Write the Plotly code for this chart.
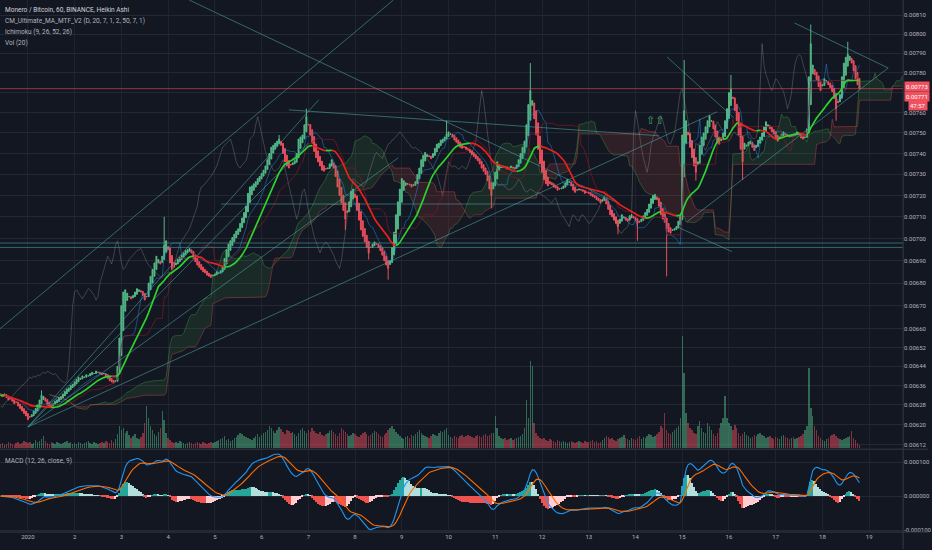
import numpy as np
import pandas as pd
import plotly.graph_objects as go

# ---------------- DATA ----------------
# Heikin Ashi close per hour, in millionths of BTC (6320 -> 0.006320)
c_dec31 = [6320, 6315, 6325, 6310, 6300, 6305, 6295, 6285, 6290, 6275, 6265, 6255, 6245, 6235]
c_jan01 = [6220, 6230, 6240, 6255, 6265, 6280, 6300, 6320, 6315, 6295, 6280, 6275, 6270, 6285, 6295, 6300, 6310, 6315, 6325, 6335, 6345, 6350, 6360, 6365]
c_jan02 = [6375, 6385, 6395, 6390, 6400, 6395, 6405, 6400, 6410, 6415, 6410, 6420, 6415, 6410, 6405, 6410, 6400, 6390, 6380, 6375, 6370, 6380, 6440, 6560]
c_jan03 = [6700, 6760, 6770, 6755, 6740, 6730, 6745, 6760, 6775, 6770, 6760, 6745, 6725, 6740, 6800, 6830, 6860, 6890, 6920, 6905, 6885, 6920, 6970, 6990]
c_jan04 = [6950, 6890, 6860, 6870, 6890, 6905, 6915, 6925, 6935, 6945, 6950, 6955, 6935, 6910, 6895, 6880, 6870, 6860, 6850, 6845, 6835, 6830, 6825, 6835]
c_jan05 = [6840, 6850, 6845, 6855, 6870, 6910, 6950, 6975, 6990, 7005, 7020, 7035, 7045, 7070, 7095, 7120, 7150, 7210, 7240, 7245, 7255, 7265, 7280, 7290]
c_jan06 = [7305, 7320, 7340, 7370, 7400, 7430, 7440, 7450, 7460, 7470, 7440, 7400, 7360, 7340, 7330, 7345, 7355, 7365, 7400, 7470, 7480, 7490, 7540, 7580]
c_jan07 = [7540, 7490, 7450, 7410, 7380, 7360, 7340, 7320, 7315, 7325, 7330, 7350, 7370, 7330, 7290, 7240, 7200, 7165, 7130, 7090, 7120, 7170, 7220, 7230]
c_jan08 = [7190, 7130, 7085, 7040, 7010, 6985, 6960, 6935, 6960, 6975, 6985, 6975, 6960, 6945, 6925, 6900, 6880, 6865, 6900, 6960, 7030, 7110, 7170, 7230]
c_jan09 = [7280, 7270, 7260, 7255, 7250, 7240, 7250, 7265, 7300, 7330, 7370, 7390, 7405, 7395, 7385, 7375, 7400, 7425, 7445, 7450, 7465, 7470, 7480, 7495]
c_jan10 = [7505, 7495, 7480, 7465, 7455, 7445, 7430, 7425, 7430, 7420, 7415, 7405, 7395, 7385, 7375, 7365, 7350, 7330, 7315, 7300, 7270, 7230, 7200, 7260]
c_jan11 = [7310, 7360, 7345, 7335, 7340, 7335, 7325, 7330, 7340, 7330, 7325, 7345, 7370, 7400, 7430, 7460, 7540, 7640, 7710, 7660, 7570, 7490, 7420, 7350]
c_jan12 = [7310, 7275, 7255, 7245, 7255, 7250, 7240, 7235, 7225, 7230, 7235, 7245, 7260, 7275, 7265, 7245, 7225, 7215, 7225, 7230, 7225, 7220, 7210, 7215]
c_jan13 = [7210, 7200, 7195, 7190, 7180, 7175, 7165, 7180, 7190, 7160, 7135, 7110, 7100, 7085, 7070, 7055, 7090, 7110, 7100, 7085, 7080, 7105, 7110, 7095]
c_jan14 = [7085, 7070, 7075, 7090, 7105, 7120, 7135, 7160, 7185, 7200, 7205, 7180, 7150, 7110, 7090, 7075, 7045, 7030, 7025, 7040, 7045, 7055, 7080, 7110]
c_jan15 = [7490, 7610, 7560, 7490, 7430, 7380, 7340, 7310, 7360, 7440, 7480, 7500, 7530, 7560, 7585, 7560, 7520, 7480, 7450, 7445, 7470, 7500, 7560, 7620]
c_jan16 = [7700, 7720, 7670, 7610, 7560, 7490, 7420, 7360, 7450, 7440, 7455, 7460, 7430, 7415, 7440, 7465, 7480, 7500, 7530, 7555, 7540, 7520, 7505, 7495]
c_jan17 = [7470, 7460, 7480, 7495, 7505, 7490, 7485, 7480, 7490, 7485, 7495, 7505, 7490, 7475, 7470, 7480, 7520, 7780, 7950, 7840, 7790, 7765, 7730, 7710]
c_jan18 = [7740, 7770, 7760, 7740, 7725, 7705, 7670, 7620, 7650, 7690, 7780, 7850, 7880, 7895, 7885, 7850, 7810, 7770, 7740, 7720]

# hourly volume (relative units)
v_dec31 = [4, 5, 3, 4, 6, 5, 4, 3, 5, 6, 4, 5, 7, 6]
v_jan01 = [5, 6, 4, 5, 8, 6, 7, 9, 12, 7, 5, 4, 6, 5, 4, 6, 5, 4, 5, 6, 7, 5, 6, 4]
v_jan02 = [5, 4, 6, 5, 4, 5, 6, 7, 5, 4, 6, 5, 4, 5, 6, 5, 7, 6, 5, 8, 6, 9, 14, 22]
v_jan03 = [18, 20, 15, 17, 13, 10, 12, 14, 10, 9, 11, 15, 25, 42, 30, 22, 18, 14, 12, 16, 20, 37, 28, 15]
v_jan04 = [10, 8, 6, 5, 6, 5, 7, 6, 5, 4, 5, 6, 5, 4, 5, 6, 5, 4, 6, 5, 4, 5, 6, 5]
v_jan05 = [6, 7, 8, 9, 10, 12, 8, 9, 7, 8, 10, 11, 13, 15, 14, 12, 11, 10, 9, 8, 10, 12, 14, 11]
v_jan06 = [13, 15, 16, 18, 22, 20, 17, 15, 18, 21, 19, 16, 14, 18, 17, 15, 16, 14, 12, 15, 18, 20, 17, 15]
v_jan07 = [18, 16, 20, 17, 15, 14, 16, 13, 12, 14, 15, 17, 18, 16, 14, 12, 15, 20, 18, 16, 14, 12, 13, 15]
v_jan08 = [14, 12, 11, 13, 15, 16, 14, 12, 13, 15, 17, 16, 14, 12, 11, 13, 15, 18, 20, 22, 19, 16, 14, 12]
v_jan09 = [10, 9, 11, 12, 10, 13, 12, 14, 16, 18, 15, 13, 12, 11, 10, 12, 14, 13, 12, 15, 17, 16, 18, 20]
v_jan10 = [13, 11, 10, 12, 11, 10, 12, 13, 11, 12, 13, 12, 11, 10, 12, 13, 12, 11, 13, 14, 12, 13, 15, 15]
v_jan11 = [32, 20, 12, 10, 9, 10, 8, 9, 10, 8, 9, 10, 11, 12, 14, 20, 48, 30, 87, 82, 25, 15, 12, 10]
v_jan12 = [9, 10, 8, 7, 9, 8, 7, 6, 8, 7, 6, 7, 6, 5, 6, 7, 6, 5, 6, 7, 6, 5, 7, 6]
v_jan13 = [6, 7, 8, 6, 7, 5, 6, 8, 10, 12, 11, 9, 10, 8, 7, 9, 10, 11, 13, 10, 9, 8, 10, 9]
v_jan14 = [8, 10, 12, 9, 11, 10, 12, 14, 13, 11, 12, 14, 16, 22, 20, 35, 18, 15, 14, 16, 18, 20, 22, 30]
v_jan15 = [112, 75, 35, 25, 20, 18, 15, 14, 22, 27, 20, 16, 15, 25, 22, 18, 14, 12, 15, 20, 25, 30, 52, 30]
v_jan16 = [25, 22, 18, 23, 20, 15, 12, 14, 16, 13, 12, 10, 11, 13, 12, 14, 15, 13, 12, 10, 11, 12, 10, 9]
v_jan17 = [11, 10, 9, 12, 13, 11, 10, 9, 10, 11, 9, 10, 11, 12, 14, 18, 22, 80, 40, 32, 22, 18, 12, 10]
v_jan18 = [8, 7, 9, 10, 12, 13, 14, 12, 10, 9, 8, 9, 10, 11, 12, 17, 10, 8, 5, 3]

# long wicks visible on the picture: bar index -> price (millionths)
wick_high = {21: 6340, 84: 7100, 143: 7490, 157: 7620, 229: 7560, 272: 7850,
             351: 7866, 375: 7790, 416: 8050, 435: 7960}
wick_low = {177: 7040, 189: 6905, 199: 6815, 252: 7140, 317: 7020, 327: 6990,
            342: 6830, 357: 7270, 381: 7274, 429: 7560}

first_bar = "2019-12-31 10:00"
day_labels = ["2020"] + [str(d) for d in range(2, 20)]
price_ticks = [0.00810, 0.00800, 0.00790, 0.00780, 0.00770, 0.00760, 0.00750, 0.00740,
               0.00730, 0.00720, 0.00710, 0.00700, 0.00690, 0.00680, 0.00670, 0.00660,
               0.00652, 0.00644, 0.00636, 0.00628, 0.00620, 0.00612]
price_labels = ["" if p == 0.00770 else "%.5f" % p for p in price_ticks]
macd_labels = ["0.000100", "0.000000", "-0.000100"]
last_labels = ["0.00773", "0.00771"]
countdown = "47:57"

# drawings (time, price)
trend_lines = [
    (("2019-12-31 09:40", 0.00660), ("2020-01-08 19:40", 0.00818)),
    (("2020-01-01 00:00", 0.00619), ("2020-01-07 05:20", 0.007664)),
    (("2020-01-01 00:00", 0.00619), ("2020-01-15 17:50", 0.007604)),
    (("2020-01-01 00:00", 0.00619), ("2020-01-07 00:10", 0.007452)),
    (("2020-01-01 00:00", 0.00619), ("2020-01-08 22:10", 0.007379)),
    (("2020-01-06 14:00", 0.007614), ("2020-01-14 12:10", 0.007486)),
    (("2020-01-04 10:50", 0.00818), ("2020-01-13 14:40", 0.007166)),
    (("2020-01-14 16:15", 0.007881), ("2020-01-16 02:30", 0.007574)),
    (("2020-01-14 22:20", 0.007050), ("2020-01-16 01:30", 0.006941)),
    (("2020-01-17 09:40", 0.008058), ("2020-01-19 09:45", 0.007825)),
    (("2020-01-19 09:45", 0.007825), ("2020-01-15 02:30", 0.007078)),
    (("2019-12-31 09:40", 0.00698), ("2020-01-19 17:25", 0.00698)),
    (("2019-12-31 09:40", 0.00696), ("2020-01-19 17:25", 0.00696)),
    (("2020-01-05 03:10", 0.00716), ("2020-01-13 04:30", 0.00716)),
]
arrow_marker = ("2020-01-14 10:00", 0.00756)

# ---------------- STYLE ----------------
BG = "#131722"
HGRID = "#242832"
VGRID = "#1f2330"
TXT = "#b2b5be"
UP = "#53b987"
DN = "#eb4d5c"
FONT = "Roboto"
XD = 907 / 932
MAIN = [1 - 449 / 550, 1]
MACDD = [1 - 533 / 550, 1 - 451 / 550]

# ---------------- COMPUTE ----------------
close = np.array(c_dec31 + c_jan01 + c_jan02 + c_jan03 + c_jan04 + c_jan05 + c_jan06 + c_jan07 +
                 c_jan08 + c_jan09 + c_jan10 + c_jan11 + c_jan12 + c_jan13 + c_jan14 + c_jan15 +
                 c_jan16 + c_jan17 + c_jan18, dtype=float) / 1e6
volume = np.array(v_dec31 + v_jan01 + v_jan02 + v_jan03 + v_jan04 + v_jan05 + v_jan06 + v_jan07 +
                  v_jan08 + v_jan09 + v_jan10 + v_jan11 + v_jan12 + v_jan13 + v_jan14 + v_jan15 +
                  v_jan16 + v_jan17 + v_jan18, dtype=float)
n = len(close)
disp = 25
t_all = pd.date_range(first_bar, periods=n + disp, freq="h")
tx = t_all[:n]

ha_open = np.empty(n)
ha_open[0] = close[0] + 0.000005
for i in range(1, n):
    ha_open[i] = (ha_open[i - 1] + close[i - 1]) / 2
high = np.maximum(ha_open, close)
low = np.minimum(ha_open, close)
for k, v in wick_high.items():
    high[k] = max(high[k], v / 1e6)
for k, v in wick_low.items():
    low[k] = min(low[k], v / 1e6)
is_up = close >= ha_open

s = pd.Series(close)
ma = s.rolling(20, min_periods=1).mean().values
rising = np.r_[True, ma[1:] >= ma[:-1]]

sh, sl = pd.Series(high), pd.Series(low)
conv = (sh.rolling(9, min_periods=1).max() + sl.rolling(9, min_periods=1).min()) / 2
base = (sh.rolling(26, min_periods=1).max() + sl.rolling(26, min_periods=1).min()) / 2
spanA = ((conv + base) / 2).values
spanB = ((sh.rolling(52, min_periods=1).max() + sl.rolling(52, min_periods=1).min()) / 2).values
tA = t_all[disp:disp + n]

ema12 = s.ewm(span=12, adjust=False).mean()
ema26 = s.ewm(span=26, adjust=False).mean()
macd = ema12 - ema26
signal = macd.ewm(span=9, adjust=False).mean()
hist = (macd - signal).values
hcol = []
for i in range(n):
    prev = hist[i - 1] if i > 0 else 0
    if hist[i] >= 0:
        hcol.append("#26a69a" if hist[i] >= prev else "#b2dfdb")
    else:
        hcol.append("#ffcdd2" if hist[i] >= prev else "#ef5350")

# MACD pane scale: highest MACD sits ~42 px above zero, label step ~34 px
unit = float(macd.max()) / 42.0
macd_ticks = [34 * unit, 0.0, -34 * unit]
macd_range = [-36 * unit, 46 * unit]

fig = go.Figure()

# volume (base axis, behind)
fig.add_trace(go.Bar(x=tx, y=volume, width=0.75 * 3600000,
                     marker=dict(color=[("rgba(83,185,135,0.5)" if u else "rgba(235,77,92,0.5)") for u in is_up],
                                 line=dict(width=0)),
                     xaxis="x", yaxis="y"))

# ichimoku cloud
diff = spanA - spanB
start = 0
segs = []
for i in range(1, n + 1):
    if i == n or (diff[i] >= 0) != (diff[start] >= 0):
        segs.append((start, min(i + 1, n)))
        start = i
for a, b in segs:
    xs = list(tA[a:b]) + list(tA[a:b][::-1])
    ys = list(spanA[a:b]) + list(spanB[a:b][::-1])
    green = diff[a] >= 0
    fig.add_trace(go.Scatter(x=xs, y=ys, fill="toself", mode="lines", line=dict(width=0),
                             fillcolor="rgba(76,175,80,0.13)" if green else "rgba(239,83,80,0.13)",
                             xaxis="x", yaxis="y3"))
fig.add_trace(go.Scatter(x=tA, y=spanA, mode="lines", line=dict(color="rgba(76,175,80,0.35)", width=1), xaxis="x", yaxis="y3"))
fig.add_trace(go.Scatter(x=tA, y=spanB, mode="lines", line=dict(color="rgba(239,83,80,0.35)", width=1), xaxis="x", yaxis="y3"))
fig.add_trace(go.Scatter(x=tx[:n - disp], y=close[disp:], mode="lines", line=dict(color="rgba(170,170,170,0.3)", width=1), xaxis="x", yaxis="y3"))
fig.add_trace(go.Scatter(x=tx, y=conv, mode="lines", line=dict(color="rgba(33,150,243,0.45)", width=1), xaxis="x", yaxis="y3"))
fig.add_trace(go.Scatter(x=tx, y=base, mode="lines", line=dict(color="rgba(128,25,34,0.7)", width=1), xaxis="x", yaxis="y3"))

# drawings
for (t0, p0), (t1, p1) in trend_lines:
    fig.add_trace(go.Scatter(x=[t0, t1], y=[p0, p1], mode="lines",
                             line=dict(color="rgba(80,170,170,0.55)", width=1), xaxis="x", yaxis="y3"))
# last price line
fig.add_trace(go.Scatter(x=[t_all[0] - pd.Timedelta(hours=1), t_all[-1] + pd.Timedelta(hours=30)],
                         y=[close[-1], close[-1]], mode="lines",
                         line=dict(color="rgba(235,77,92,0.6)", width=1), xaxis="x", yaxis="y3"))

# candles
fig.add_trace(go.Candlestick(x=tx, open=ha_open, high=high, low=low, close=close,
                             increasing=dict(line=dict(color=UP, width=1), fillcolor=UP),
                             decreasing=dict(line=dict(color=DN, width=1), fillcolor=DN),
                             whiskerwidth=0, xaxis="x", yaxis="y3"))

# MA 20 colored by slope
up_y = [ma[i] if (rising[i] or (i + 1 < n and rising[i + 1])) else None for i in range(n)]
dn_y = [ma[i] if ((not rising[i]) or (i + 1 < n and not rising[i + 1])) else None for i in range(n)]
fig.add_trace(go.Scatter(x=tx, y=dn_y, mode="lines", line=dict(color="#e8221e", width=1.7), connectgaps=False, xaxis="x", yaxis="y3"))
fig.add_trace(go.Scatter(x=tx, y=up_y, mode="lines", line=dict(color="#2ed12e", width=1.7), connectgaps=False, xaxis="x", yaxis="y3"))

# MACD
fig.add_trace(go.Bar(x=tx, y=hist, width=0.8 * 3600000, marker=dict(color=hcol, line=dict(width=0)), xaxis="x2", yaxis="y2"))
fig.add_trace(go.Scatter(x=tx, y=macd, mode="lines", line=dict(color="#2196f3", width=1.1), xaxis="x2", yaxis="y2"))
fig.add_trace(go.Scatter(x=tx, y=signal, mode="lines", line=dict(color="#ff6d00", width=1.1), xaxis="x2", yaxis="y2"))

day_ticks = pd.date_range("2020-01-01", periods=len(day_labels), freq="D")
xr = [pd.Timestamp("2019-12-31 09:41"), pd.Timestamp("2020-01-19 17:25")]
pr = [np.log10(0.006105), np.log10(0.008180)]

fig.update_layout(
    width=932, height=550, margin=dict(l=0, r=0, t=0, b=0),
    paper_bgcolor=BG, plot_bgcolor=BG, showlegend=False, hovermode=False, bargap=0,
    font=dict(family=FONT, color=TXT, size=6),
    xaxis=dict(domain=[0, XD], range=xr, anchor="y", tickvals=day_ticks, showticklabels=False,
               showgrid=True, gridcolor=VGRID, zeroline=False, showline=False,
               rangeslider=dict(visible=False), ticks=""),
    xaxis2=dict(domain=[0, XD], range=xr, anchor="y2", matches="x", tickvals=day_ticks, ticktext=day_labels,
                showgrid=True, gridcolor=VGRID, zeroline=False, showline=False, ticks="",
                tickfont=dict(size=6, color=TXT, family=FONT)),
    yaxis=dict(domain=MAIN, range=[0, volume.max() * 449 / 112], visible=False, fixedrange=True),
    yaxis3=dict(overlaying="y", type="log", range=pr, side="right", anchor="x",
                tickvals=price_ticks, ticktext=price_labels, showgrid=True, gridcolor=HGRID,
                zeroline=False, showline=False, ticks="", tickfont=dict(size=6, color=TXT, family=FONT)),
    yaxis2=dict(domain=MACDD, range=macd_range, side="right", anchor="x2",
                tickvals=macd_ticks, ticktext=macd_labels, showgrid=True, gridcolor=HGRID,
                zeroline=False, showline=False, ticks="", tickfont=dict(size=6, color=TXT, family=FONT)),
)

# panel separators and axis border
for yy in [1 - 450 / 550, 1 - 533 / 550]:
    fig.add_shape(type="line", xref="paper", yref="paper", x0=0, x1=1, y0=yy, y1=yy,
                  line=dict(color="#363a45", width=1))
fig.add_shape(type="line", xref="paper", yref="paper", x0=XD, x1=XD, y0=0, y1=1,
              line=dict(color="#363a45", width=1))

# header texts
heads = ["Monero / Bitcoin, 60, BINANCE, Heikin Ashi",
         "CM_Ultimate_MA_MTF_V2 (D, 20, 7, 1, 2, 50, 7, 1)",
         "Ichimoku (9, 26, 52, 26)",
         "Vol (20)"]
for k, txt in enumerate(heads):
    fig.add_annotation(x=3 / 932, y=1 - (10 + 11 * k) / 550, xref="paper", yref="paper",
                       text=txt, showarrow=False, xanchor="left", yanchor="middle",
                       font=dict(size=6.5, color="#d1d4dc" if k == 0 else TXT, family=FONT))
fig.add_annotation(x=3 / 932, y=1 - 462 / 550, xref="paper", yref="paper",
                   text="MACD (12, 26, close, 9)", showarrow=False, xanchor="left", yanchor="middle",
                   font=dict(size=6.5, color=TXT, family=FONT))

# small drawing icon
fig.add_annotation(x=arrow_marker[0], y=np.log10(arrow_marker[1]), xref="x", yref="y3", text="⇧⇧",
                   showarrow=False, font=dict(size=11, color="#3fa564", family="DejaVu Sans"))

# price boxes on the axis
fig.add_annotation(x=XD + 1 / 932, y=np.log10(0.00773), xref="paper", yref="y3", text=last_labels[0],
                   showarrow=False, xanchor="left", yanchor="middle", bgcolor="#f0515e", borderpad=1,
                   font=dict(size=6, color="white", family=FONT))
fig.add_annotation(x=XD + 1 / 932, y=np.log10(0.00771), xref="paper", yref="y3", text=last_labels[1],
                   showarrow=False, xanchor="left", yanchor="middle", bgcolor="#f0515e", borderpad=1,
                   yshift=-5.8, font=dict(size=6, color="white", family=FONT))
fig.add_annotation(x=922 / 932, y=np.log10(0.00771), xref="paper", yref="y3", text=countdown,
                   showarrow=False, xanchor="center", yanchor="middle", bgcolor="#f0515e", borderpad=1,
                   yshift=-15.3, font=dict(size=6, color="white", family=FONT))

fig.write_html("out.html", config={"displayModeBar": False},
               post_script="document.body.style.margin='0';document.body.style.overflow='hidden';")
